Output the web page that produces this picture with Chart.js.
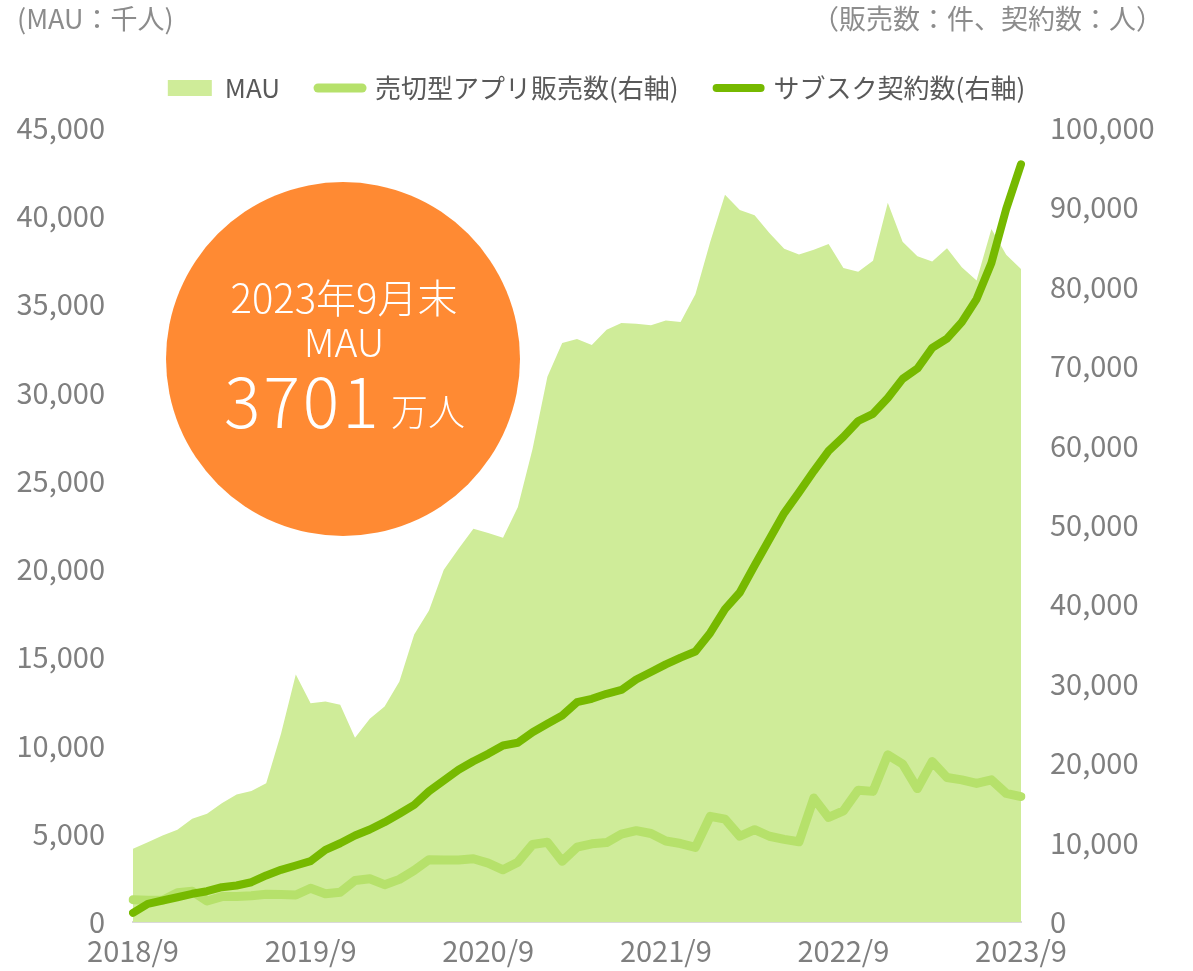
<!DOCTYPE html>
<html lang="ja">
<head>
<meta charset="utf-8">
<title>MAU・売切型アプリ販売数・サブスク契約数</title>
<script src="https://cdn.jsdelivr.net/npm/chart.js@4.4.1/dist/chart.umd.min.js"></script>
<style>
  html, body { margin: 0; padding: 0; background: #fff; }
</style>
</head>
<body>
<canvas id="chart" width="1193" height="971"></canvas>
<script>
// Months 2018/9 .. 2023/9
const months = [];
for (let i = 0; i <= 60; i++) {
    const m = 8 + i;
    months.push((2018 + Math.floor(m / 12)) + '/' + (m % 12 + 1));
}
const yearTicks = ['2018/9', '2019/9', '2020/9', '2021/9', '2022/9', '2023/9'];

// MAU (千人)
const mauValues = [
    4150, 4520, 4900, 5230, 5850, 6130, 6730, 7230, 7420, 7870,
    10670, 14030, 12400, 12500, 12310, 10440, 11520, 12220, 13630, 16300,
    17660, 19970, 21160, 22290, 22040, 21780, 23500, 26820, 30900, 32820,
    33040, 32700, 33570, 33950, 33900, 33820, 34090, 34010, 35580, 38540,
    41220, 40350, 40060, 39050, 38160, 37830, 38100, 38430, 37070, 36850,
    37480, 40760, 38550, 37730, 37440, 38180, 37110, 36350, 39280, 37810,
    37010
];

// 売切型アプリ販売数 (件, 右軸)
const salesValues = [
    2800, 2750, 2750, 3680, 3880, 2650, 3200, 3200, 3300, 3500,
    3450, 3400, 4250, 3550, 3750, 5230, 5440, 4700, 5370, 6500,
    7850, 7800, 7800, 7960, 7410, 6570, 7530, 9760, 10050, 7660,
    9420, 9850, 10000, 11070, 11500, 11150, 10200, 9880, 9400, 13300,
    12950, 10800, 11630, 10800, 10400, 10100, 15600, 13170, 14000, 16600,
    16450, 21050, 19900, 16800, 20200, 18200, 17900, 17450, 17900, 16200,
    15800
];

// サブスク契約数 (人, 右軸)
const subsValues = [
    1150, 2290, 2710, 3120, 3550, 3880, 4380, 4600, 5010, 5860,
    6570, 7120, 7660, 9090, 9920, 10890, 11650, 12570, 13630, 14750,
    16470, 17820, 19170, 20250, 21180, 22230, 22570, 23900, 24960, 26000,
    27680, 28110, 28740, 29220, 30540, 31480, 32450, 33300, 34060, 36400,
    39400, 41500, 44900, 48200, 51500, 54100, 56800, 59330, 61100, 63100,
    64000, 66000, 68400, 69700, 72300, 73470, 75550, 78450, 83000, 89800,
    95420
];

const FONT = '"Noto Sans CJK JP", "Noto Sans", sans-serif';
const TICK_COLOR = '#7f7f7f';

Chart.defaults.font.family = FONT;

// extra room between legend and plot
const legendSpace = {
    id: 'legendSpace',
    beforeInit(chart) {
        const origFit = chart.legend.fit;
        chart.legend.fit = function () {
            origFit.call(this);
            this.height += 17;
        };
    }
};

// orange badge + unit notes
const overlay = {
    id: 'overlay',
    afterDatasetsDraw(chart) {
        const ctx = chart.ctx;
        ctx.save();
        ctx.fillStyle = '#ff8a33';
        ctx.beginPath();
        ctx.arc(343, 359, 177, 0, Math.PI * 2);
        ctx.fill();

        ctx.fillStyle = '#ffffff';
        ctx.textBaseline = 'alphabetic';
        ctx.textAlign = 'center';
        ctx.font = '300 40px ' + FONT;
        ctx.fillText('2023年9月末', 344, 313);
        ctx.font = '300 39px ' + FONT;
        ctx.fillText('MAU', 344, 357);
        ctx.textAlign = 'left';
        ctx.font = '300 68px ' + FONT;
        ctx.letterSpacing = '3px';
        ctx.fillText('3701', 224, 428);
        ctx.letterSpacing = '0px';
        ctx.font = '300 37px ' + FONT;
        ctx.fillText('万人', 391, 426);
        ctx.restore();
    },
    afterDraw(chart) {
        const ctx = chart.ctx;
        ctx.save();
        ctx.fillStyle = '#8c8c8c';
        ctx.font = '27px ' + FONT;
        ctx.textBaseline = 'alphabetic';
        ctx.textAlign = 'left';
        ctx.fillText('(MAU：千人)', 17, 29);
        ctx.textAlign = 'right';
        ctx.fillText('（販売数：件、契約数：人）', 1163, 29);
        ctx.restore();
    }
};

new Chart(document.getElementById('chart'), {
    type: 'line',
    data: {
        labels: months,
        datasets: [
            {
                label: 'MAU',
                data: mauValues,
                yAxisID: 'yL',
                fill: 'origin',
                backgroundColor: '#cfec99',
                borderColor: 'rgba(0,0,0,0)',
                borderWidth: 0,
                pointRadius: 0,
                tension: 0,
                order: 2
            },
            {
                label: '売切型アプリ販売数(右軸)',
                data: salesValues,
                yAxisID: 'yR',
                fill: false,
                borderColor: '#b6e16b',
                backgroundColor: '#b6e16b',
                borderWidth: 9,
                borderCapStyle: 'round',
                borderJoinStyle: 'round',
                pointRadius: 0,
                tension: 0,
                order: 1
            },
            {
                label: 'サブスク契約数(右軸)',
                data: subsValues,
                yAxisID: 'yR',
                fill: false,
                borderColor: '#76b900',
                backgroundColor: '#76b900',
                borderWidth: 8,
                borderCapStyle: 'round',
                borderJoinStyle: 'round',
                pointRadius: 0,
                tension: 0,
                order: 0
            }
        ]
    },
    options: {
        responsive: false,
        animation: false,
        events: [],
        layout: { padding: { top: 37, left: 0, right: 0, bottom: 0 } },
        plugins: {
            tooltip: { enabled: false },
            legend: {
                position: 'top',
                labels: {
                    font: { size: 26 },
                    padding: 38,
                    usePointStyle: true,
                    pointStyleWidth: 44,
                    boxHeight: 16,
                    generateLabels: chart => chart.data.datasets.map((ds, i) => ({
                        text: ds.label,
                        fillStyle: i === 0 ? ds.backgroundColor : ds.borderColor,
                        strokeStyle: i === 0 ? ds.backgroundColor : ds.borderColor,
                        lineWidth: i === 0 ? 0 : ds.borderWidth,
                        lineCap: 'round',
                        pointStyle: i === 0 ? 'rect' : 'line',
                        hidden: false,
                        datasetIndex: i,
                        fontColor: '#595959'
                    }))
                }
            }
        },
        scales: {
            x: {
                type: 'category',
                offset: false,
                grid: { display: false, drawTicks: false },
                border: { display: true, color: '#d9d9d9', width: 2 },
                ticks: {
                    autoSkip: false,
                    maxRotation: 0,
                    padding: 12,
                    color: TICK_COLOR,
                    font: { size: 29 },
                    callback: function (val, idx) {
                        const lab = months[idx];
                        return yearTicks.includes(lab) ? lab : '';
                    }
                },
                afterFit: s => { s.height = 49; }
            },
            yL: {
                position: 'left',
                min: 0,
                max: 45000,
                grid: { display: false, drawTicks: false },
                border: { display: false },
                ticks: {
                    stepSize: 5000,
                    padding: 28,
                    color: TICK_COLOR,
                    font: { size: 29 },
                    callback: v => v.toLocaleString('en-US')
                },
                afterFit: s => { s.width = 133; }
            },
            yR: {
                position: 'right',
                min: 0,
                max: 100000,
                grid: { display: false, drawTicks: false },
                border: { display: false },
                ticks: {
                    stepSize: 10000,
                    padding: 29,
                    color: TICK_COLOR,
                    font: { size: 29 },
                    callback: v => v.toLocaleString('en-US')
                },
                afterFit: s => { s.width = 172; }
            }
        }
    },
    plugins: [legendSpace, overlay]
});
</script>
</body>
</html>
